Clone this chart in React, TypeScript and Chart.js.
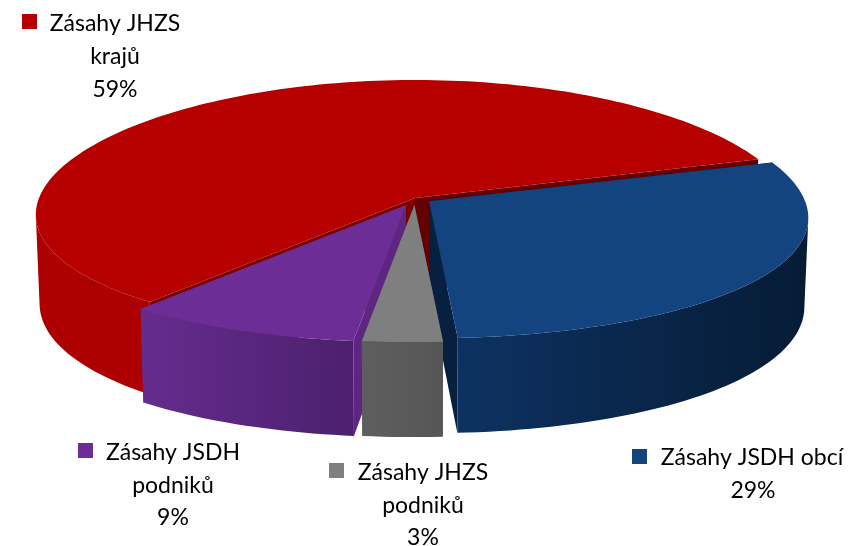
import React, { useEffect, useRef } from "react";
import { Chart, registerables, ArcElement, PieController } from "chart.js";

// ---- data ----
const categories = ["Zásahy JHZS krajů", "Zásahy JSDH obcí", "Zásahy JHZS podniků", "Zásahy JSDH podniků"];
const shares = [59, 29, 3, 9];
const firstSliceRotation = 219.4;

// ---- style ----
const topColors = ["#B60000", "#134480", "#7F7F7F", "#6C2D96"];
const wallFrom = ["#AE0000", "#0D3262", "#5E5E5E", "#652C8E"];
const wallTo = ["#A80000", "#061B35", "#565656", "#4C206E"];
const startFaceColors = ["#7C0000", "#08203F", "#505050", "#5E2682"];
const endFaceColors = ["#640000", "#08203F", "#505050", "#5E2682"];
const explode = [0, 17, 21, 23];
const drawOrder = [0, 1, 3, 2];

const legendBlocks = [
  { swatch: [22, 14, 15, 15], color: topColors[0], lines: [["Zásahy JHZS", 115, 31], ["krajů", 115, 64], ["59%", 115, 97]] },
  { swatch: [632, 449, 15, 15], color: topColors[1], lines: [["Zásahy JSDH obcí", 752, 465], ["29%", 753, 498]] },
  { swatch: [329, 463, 15, 15], color: topColors[2], lines: [["Zásahy JHZS", 423, 480], ["podniků", 423, 513], ["3%", 423, 545]] },
  { swatch: [78, 443, 15, 15], color: topColors[3], lines: [["Zásahy JSDH", 173, 460], ["podniků", 173, 493], ["9%", 173, 525]] },
];

const KX = 0.13;
const KY = 0.0745;
const RY = 126.8;
const WALL_BASE = 88;
const WALL_FRONT = 7;
const BOTTOM_SHRINK = 0.99;

class Arc3D extends ArcElement {
  static id = "arc3d";
  static defaults = { ...ArcElement.defaults };

  draw(ctx: CanvasRenderingContext2D) {
    const a0 = (this as any).startAngle as number;
    const a1 = (this as any).endAngle as number;
    const R = (this as any).outerRadius as number;
    const cx = (this as any).x as number;
    const cy = (this as any).y as number;
    const opts = (this as any).options;
    const i = (this as any).$context.dataIndex as number;
    const mid = (a0 + a1) / 2;
    const off = (opts.offset || 0) / R;
    const ox = Math.cos(mid) * off * R;
    const oy = Math.sin(mid) * off * RY;

    const top = (X: number, Y: number) => [
      cx + ox + (R * X) / (1 - KX * Y),
      cy + oy + (RY * Y) / (1 - KY * Y),
      Y,
    ];
    const bottom = (X: number, Y: number) => {
      const p = top(X, Y);
      return [cx + (p[0] - cx) * BOTTOM_SHRINK, p[1] + WALL_BASE + WALL_FRONT * Y];
    };
    const steps = Math.max(8, Math.ceil((a1 - a0) * 40));
    const rim: number[][] = [];
    for (let s = 0; s <= steps; s++) {
      const a = a0 + ((a1 - a0) * s) / steps;
      rim.push([Math.cos(a), Math.sin(a)]);
    }
    const trace = (pts: number[][]) => {
      pts.forEach((p, k) => (k ? ctx.lineTo(p[0], p[1]) : ctx.moveTo(p[0], p[1])));
      ctx.closePath();
    };
    const fill = (pts: number[][], style: string | CanvasGradient) => {
      ctx.beginPath();
      trace(pts);
      ctx.fillStyle = style;
      ctx.fill();
    };
    const apexT = top(0, 0);
    const apexB = bottom(0, 0);
    const first = rim[0];
    const last = rim[rim.length - 1];

    ctx.save();
    // cut faces
    fill([apexT, top(first[0], first[1]), bottom(first[0], first[1]), apexB], startFaceColors[i]);
    fill([apexT, top(last[0], last[1]), bottom(last[0], last[1]), apexB], endFaceColors[i]);
    // outer wall: the viewer-facing strips only, as one path
    const wt = rim.map((p) => top(p[0], p[1]));
    const wb = rim.map((p) => bottom(p[0], p[1]));
    const xs = wt.map((p) => p[0]);
    const g = ctx.createLinearGradient(Math.min(...xs), 0, Math.max(...xs), 0);
    g.addColorStop(0, wallFrom[i]);
    g.addColorStop(1, wallTo[i]);
    ctx.beginPath();
    for (let s = 0; s < steps; s++) {
      const q = [wt[s], wt[s + 1], wb[s + 1], wb[s]];
      let area = 0;
      q.forEach((p, k) => {
        const n = q[(k + 1) % 4];
        area += p[0] * n[1] - n[0] * p[1];
      });
      if (area < 0) trace(q);
    }
    ctx.fillStyle = g;
    ctx.fill();
    // top face
    fill([apexT, ...wt], opts.backgroundColor);
    ctx.restore();
  }
}

class Pie3D extends PieController {
  static id = "pie3d";
  static defaults = { dataElementType: "arc3d" };

  draw() {
    const chart = (this as any).chart;
    const els = (this as any)._cachedMeta.data;
    drawOrder.forEach((i) => els[i].draw(chart.ctx, chart.chartArea));
  }
}

Chart.register(...registerables, Arc3D, Pie3D);

const labelsPlugin = {
  id: "sliceLabels",
  afterDraw(chart: any) {
    const ctx: CanvasRenderingContext2D = chart.ctx;
    ctx.save();
    ctx.font = '23px Lato, "Open Sans", sans-serif';
    ctx.textAlign = "center";
    ctx.textBaseline = "alphabetic";
    legendBlocks.forEach((b) => {
      ctx.fillStyle = b.color;
      ctx.fillRect(b.swatch[0], b.swatch[1], b.swatch[2], b.swatch[3]);
      ctx.fillStyle = "#000";
      b.lines.forEach((l) => ctx.fillText(l[0] as string, l[1] as number, l[2] as number));
    });
    ctx.restore();
  },
};

export default function App() {
  const ref = useRef<HTMLCanvasElement>(null);
  useEffect(() => {
    const chart = new Chart(ref.current!, {
      type: "pie3d" as any,
      data: {
        labels: categories,
        datasets: [
          {
            data: shares,
            backgroundColor: topColors,
            borderWidth: 0,
            offset: explode,
          } as any,
        ],
      },
      options: {
        responsive: false,
        animation: false,
        rotation: firstSliceRotation,
        radius: 376,
        layout: { padding: { left: 0, top: 0, right: 18, bottom: 150 } },
        plugins: { legend: { display: false }, tooltip: { enabled: false } },
      } as any,
      plugins: [labelsPlugin],
    });
    return () => chart.destroy();
  }, []);
  return (
    <div style={{ position: "fixed", left: 0, top: 0, width: 848, height: 546, background: "#fff" }}>
      <canvas ref={ref} width={848} height={546} style={{ display: "block" }} />
    </div>
  );
}
